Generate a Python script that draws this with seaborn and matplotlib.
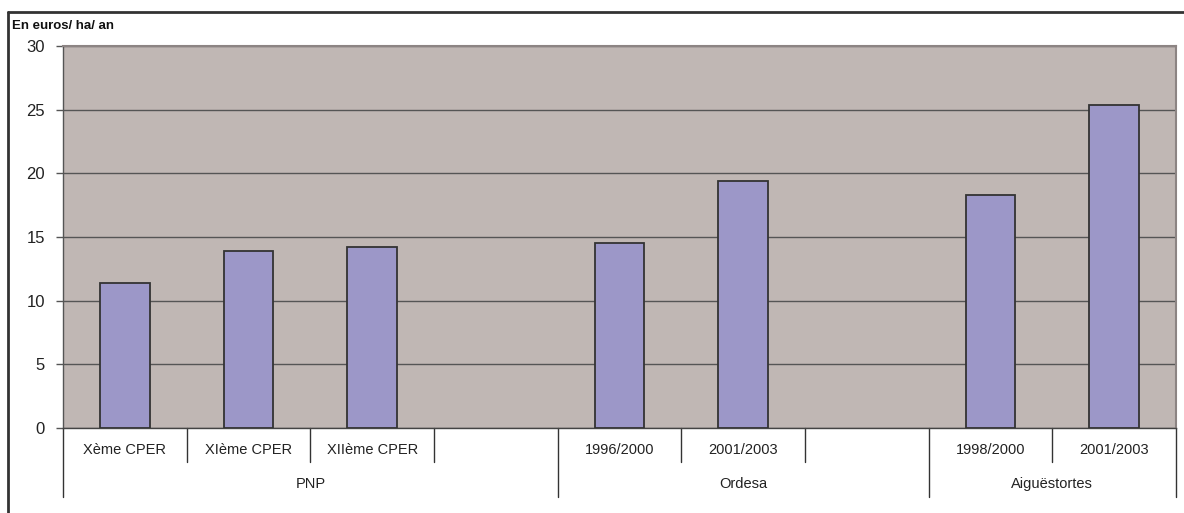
import pandas as pd
import seaborn as sns
import matplotlib.pyplot as plt
from matplotlib.lines import Line2D
import matplotlib.transforms as mtransforms

# data
slot_keys = ["PNP X", "PNP XI", "PNP XII", "PNP vide",
             "Ordesa 96", "Ordesa 01", "Ordesa vide",
             "Aig 98", "Aig 01"]
slot_labels = ["Xème CPER", "XIème CPER", "XIIème CPER", "",
               "1996/2000", "2001/2003", "",
               "1998/2000", "2001/2003"]
bar_keys = ["PNP X", "PNP XI", "PNP XII", "Ordesa 96", "Ordesa 01", "Aig 98", "Aig 01"]
values = [11.4, 13.9, 14.2, 14.5, 19.4, 18.3, 25.4]
groups = ["PNP", "Ordesa", "Aiguëstortes"]
group_sizes = [4, 3, 2]

df = pd.DataFrame({"slot": bar_keys, "valeur": values})

sns.set_style("white")
plt.rcParams['font.family'] = ['Liberation Sans', 'DejaVu Sans']

fig = plt.figure(figsize=(11.84, 5.13), dpi=100)
W, H = 1184, 513
ax = fig.add_axes([63 / W, (H - 428) / H, (1176 - 63) / W, (428 - 46) / H])
ax.set_facecolor("#C0B7B4")

sns.barplot(data=df, x="slot", y="valeur", order=slot_keys, ax=ax,
            color="#9C97C8", saturation=1, width=0.4,
            edgecolor="#333333", linewidth=1.3, zorder=3)

ax.set_xlim(-0.5, len(slot_keys) - 0.5)
ax.set_ylim(0, 30)
ax.set_yticks(range(0, 31, 5))
ax.yaxis.grid(True, color="#555555", linewidth=1)
ax.set_axisbelow(True)
ax.set_xlabel("")
ax.set_ylabel("")
ax.set_xticks([])
ax.tick_params(axis="y", length=5, width=1, color="#555555", pad=8,
               labelsize=12, labelcolor="#222222", left=True)

for s in ["top", "right"]:
    ax.spines[s].set_color("#8C8483")
    ax.spines[s].set_linewidth(1.5)
ax.spines["left"].set_color("#555555")
ax.spines["bottom"].set_color("#444444")
ax.spines["left"].set_linewidth(1)
ax.spines["bottom"].set_linewidth(1)

# two-level category axis
trans = mtransforms.blended_transform_factory(ax.transData, ax.transAxes)
row1 = -(462 - 428) / (428 - 46)
row2 = -(497 - 428) / (428 - 46)
for i, lab in enumerate(slot_labels):
    ax.text(i, -(450 - 428) / (428 - 46), lab, transform=trans,
            ha="center", va="center", fontsize=10.5, color="#222222")
bounds = [0]
for n in group_sizes:
    bounds.append(bounds[-1] + n)
for i in range(len(slot_keys) + 1):
    y_end = row2 if i in bounds else row1
    ax.add_line(Line2D([i - 0.5, i - 0.5], [0, y_end], transform=trans,
                       color="#333333", linewidth=1, clip_on=False))
for g, a, b in zip(groups, bounds[:-1], bounds[1:]):
    ax.text((a + b - 1) / 2, -(484 - 428) / (428 - 46), g, transform=trans,
            ha="center", va="center", fontsize=10.5, color="#222222")

# outer frame and unit label
fig.add_artist(Line2D([8 / W, 1], [1 - 12 / H, 1 - 12 / H], color="#333333", linewidth=2))
fig.add_artist(Line2D([8 / W, 8 / W], [0, 1 - 12 / H], color="#333333", linewidth=2))
fig.text(12 / W, 1 - 26 / H, "En euros/ ha/ an", fontsize=9.5, fontweight="bold",
         ha="left", va="center", color="#111111")

fig.savefig("out.png", dpi=100)
